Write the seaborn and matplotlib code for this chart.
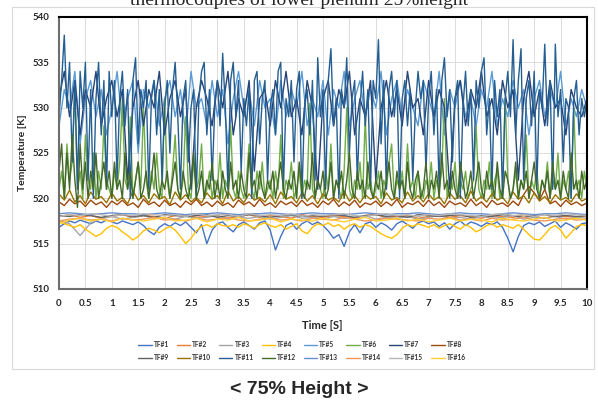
import numpy as np
import pandas as pd
import matplotlib
matplotlib.use("Agg")
import matplotlib.pyplot as plt
from matplotlib.lines import Line2D
from matplotlib.patches import Rectangle
import seaborn as sns

# --- time grids (s) ---
t_fine = np.round(np.arange(201) * 0.05, 2)
t_mid = np.round(np.arange(101) * 0.1, 2)
t_coarse = np.round(np.arange(51) * 0.2, 2)

# --- temperatures [K] ---
tf1 = [516.8, 517.2, 517.5, 517.3, 517.6, 517.4, 517.2, 517.5, 517.3, 517.6,
       517.4, 517.2, 517.5, 517.3, 517.1, 517.4, 517.0, 516.4, 516.0, 516.8,
       517.2, 516.9, 517.3, 517.0, 517.4, 516.8, 516.2, 517.1, 515.0, 516.5,
       517.2, 517.4, 516.8, 516.3, 517.1, 517.4, 517.0, 516.6, 517.3, 517.5,
       516.5, 514.3, 515.8, 517.0, 517.3, 516.6, 517.2, 517.5, 517.1, 517.4,
       517.0, 516.4, 515.6, 516.0, 514.7, 516.3, 517.1, 516.2, 517.2, 517.4,
       516.8, 517.3, 517.0, 516.5, 517.2, 517.5, 517.1, 516.7, 517.3, 517.5,
       517.2, 517.4, 516.9, 517.3, 516.6, 517.2, 517.5, 517.0, 517.4, 517.2,
       516.9, 517.3, 517.1, 517.4, 516.8, 515.6, 514.1, 515.8, 517.0, 517.3,
       517.1, 517.4, 516.9, 517.2, 517.5, 516.8, 517.3, 517.0, 516.6, 517.2, 517.3]
tf2 = [518.0, 518.2, 517.9, 518.1, 517.8, 518.0, 518.2, 517.9, 518.1, 518.0,
       517.8, 518.1, 518.2, 517.9, 518.0, 518.1, 517.8, 518.0, 518.2, 517.9,
       518.1, 518.0, 517.8, 518.2, 518.0, 517.9, 518.1, 518.0, 517.8, 518.1,
       518.2, 517.9, 518.0, 518.1, 517.8, 518.0, 518.2, 517.9, 518.1, 518.0,
       517.8, 518.1, 518.0, 517.9, 518.2, 518.0, 517.8, 518.1, 518.0, 517.9, 518.1]
tf3 = [517.6, 517.2, 515.9, 517.3, 517.8, 518.0, 517.7, 517.9, 518.1, 517.8,
       517.9, 517.7, 518.0, 517.8, 517.9, 518.1, 517.7, 517.9, 517.8, 518.0,
       517.7, 517.9, 518.1, 517.8, 517.9, 517.7, 518.0, 517.8, 517.9, 518.1,
       517.7, 517.9, 517.8, 518.0, 517.7, 517.9, 518.1, 517.8, 517.9, 517.7,
       518.0, 517.8, 517.9, 518.1, 517.7, 517.9, 517.8, 518.0, 517.7, 517.9, 517.8]
tf4 = [517.5, 517.2, 517.0, 516.8, 517.1, 516.6, 516.2, 515.8, 516.1, 516.7,
       517.0, 516.8, 516.3, 515.9, 515.4, 515.8, 516.4, 516.7, 516.5, 516.2,
       516.6, 516.9, 516.5, 515.8, 515.0, 515.6, 516.4, 516.9, 517.1, 516.8,
       517.2, 517.0, 516.9, 517.1, 516.8, 517.2, 517.0, 516.7, 517.1, 517.3,
       517.0, 516.8, 517.1, 516.6, 516.9, 517.2, 516.4, 516.1, 516.8, 517.2,
       517.0, 517.3, 516.9, 517.1, 516.6, 517.0, 517.2, 516.8, 517.1, 516.9,
       516.5, 516.1, 515.8, 515.6, 516.0, 516.7, 517.1, 516.9, 517.2, 517.0,
       516.8, 517.1, 516.7, 517.0, 517.2, 516.9, 516.6, 517.1, 516.8, 516.3,
       516.6, 517.0, 517.2, 516.8, 517.1, 516.9, 516.7, 517.1, 516.6, 516.0,
       515.5, 515.4, 516.0, 516.7, 517.0, 516.5, 515.6, 516.2, 516.9, 517.1, 517.0]
tf5 = [528, 532, 530, 534, 526, 531, 533, 529, 532, 527,
       530, 534, 528, 531, 533, 525, 532, 530, 533, 528,
       531, 533, 529, 532, 527, 534, 530, 531, 528, 533,
       529, 532, 526, 531, 534, 530, 532, 528, 533, 530,
       531, 527, 533, 529, 532, 530, 534, 528, 531, 529,
       533, 527, 532, 530, 534, 528, 531, 533, 529, 532,
       530, 534, 527, 531, 533, 529, 532, 530, 528, 533,
       531, 529, 534, 527, 532, 530, 533, 529, 531, 528,
       532, 530, 534, 528, 531, 529, 533, 530, 532, 527,
       531, 533, 529, 532, 530, 534, 528, 531, 529, 532, 530]
tf6 = [521, 523, 520, 526, 522, 524, 532, 521, 523, 520, 527, 522, 521, 525, 520, 523, 521, 528, 522, 521,
       520, 523, 521, 524, 531, 522, 521, 529, 520, 522, 524, 521, 530, 522, 520, 523, 521, 525, 521, 520,
       531, 522, 520, 523, 527, 521, 520, 522, 529, 521, 520, 524, 521, 522, 526, 520, 521, 523, 520, 522,
       521, 525, 520, 522, 521, 528, 521, 520, 523, 521, 520, 522, 526, 521, 520, 523, 521, 524, 520, 521,
       522, 520, 523, 521, 527, 520, 522, 521, 524, 520, 521, 523, 520, 522, 521, 530.5, 521, 520, 522, 521,
       520, 523, 521, 526, 520, 522, 521, 520, 523, 530, 521, 520, 522, 521, 524, 520, 529, 521, 522, 520,
       521, 523, 520, 522, 521, 524, 526, 520, 522, 521, 523, 520, 526, 521, 522, 520, 523, 521, 520, 522,
       521, 524, 520, 522, 521, 523, 531, 520, 522, 521, 524, 520, 522, 521, 523, 520, 521, 522, 528, 521,
       520, 522, 521, 524, 520, 522, 523, 520, 521, 531, 522, 520, 521, 523, 520, 522, 521, 527, 520, 522,
       521, 523, 520, 522, 521, 524, 520, 522, 521, 525, 520, 522, 521, 523, 520, 530, 521, 522, 520, 523,
       521]
tf7 = [531, 534, 529, 533, 527, 532, 530, 534, 528, 531,
       533, 529, 532, 522, 530, 533, 528, 532, 530, 534,
       527, 531, 533, 529, 532, 521, 530, 533, 531, 528,
       533, 530, 534, 527, 531, 529, 533, 523, 531, 532,
       528, 533, 530, 534, 529, 531, 527, 533, 530, 521,
       531, 533, 528, 532, 530, 534, 527, 531, 529, 533,
       522, 530, 533, 529, 532, 528, 534, 530, 531, 527,
       533, 529, 532, 530, 521, 531, 533, 528, 532, 530,
       534, 529, 531, 527, 533, 530, 532, 522, 531, 534,
       529, 532, 528, 533, 530, 531, 527, 532, 530, 529, 531]
tf8 = [519.6, 519.2, 519.9, 519.4, 519.7, 519.1, 519.8, 519.3, 519.6, 519.0,
       519.7, 519.3, 519.8, 519.2, 519.5, 519.0, 519.9, 519.3, 519.6, 519.1,
       519.8, 519.2, 519.5, 519.0, 519.7, 519.3, 519.9, 519.2, 519.6, 519.1,
       519.7, 519.2, 519.5, 519.0, 519.8, 519.3, 519.6, 519.1, 519.9, 519.2,
       519.5, 519.0, 519.7, 519.3, 519.6, 519.1, 519.8, 519.2, 519.5, 519.0,
       519.7, 519.3, 519.9, 519.1, 519.6, 519.2, 519.8, 519.0, 519.5, 519.3,
       519.7, 519.1, 519.6, 519.2, 519.9, 519.0, 519.5, 519.3, 519.7, 519.1,
       519.8, 519.2, 519.6, 519.0, 519.7, 519.3, 519.5, 519.1, 519.9, 519.2,
       519.6, 519.0, 519.8, 519.3, 519.5, 519.1, 519.7, 519.2, 520.4, 521.3,
       520.6, 519.8, 521.0, 519.4, 519.7, 519.1, 519.8, 519.3, 519.6, 519.2, 519.5]
tf9 = [518.1, 518.0, 518.2, 518.1, 517.9, 518.1, 518.2, 518.0, 518.1, 517.9,
       518.2, 518.1, 518.0, 518.1, 518.2, 517.9, 518.1, 518.0, 518.2, 518.1,
       517.9, 518.1, 518.2, 518.0, 518.1, 518.0, 518.2, 518.1, 517.9, 518.1,
       518.2, 518.0, 518.1, 517.9, 518.2, 518.1, 518.0, 518.1, 518.2, 517.9,
       518.1, 518.0, 518.2, 518.1, 517.9, 518.1, 518.2, 518.0, 518.1, 518.0, 518.1]
tf10 = [520.5, 519.8, 520.9, 519.6, 520.3, 519.4, 520.7, 519.9, 520.2, 519.5,
        520.6, 519.7, 520.1, 519.4, 520.8, 519.8, 520.3, 519.5, 520.5, 519.9,
        520.2, 519.3, 520.7, 519.8, 520.4, 519.6, 520.1, 519.5, 520.6, 519.9,
        520.3, 519.4, 520.8, 519.7, 520.2, 519.5, 520.5, 519.8, 520.1, 519.6,
        520.4, 519.4, 520.7, 519.9, 520.2, 519.5, 520.6, 519.7, 520.3, 519.4,
        520.5, 519.8, 520.1, 519.6, 520.8, 519.7, 520.3, 519.5, 520.4, 519.9,
        520.2, 519.4, 520.6, 519.8, 520.1, 519.5, 520.7, 519.7, 520.3, 519.6,
        520.5, 519.8, 520.2, 519.4, 520.6, 519.9, 520.3, 519.5, 520.8, 519.7,
        520.2, 519.6, 520.5, 519.8, 520.1, 519.4, 520.7, 519.9, 520.3, 519.5,
        520.6, 519.7, 520.2, 519.5, 520.4, 519.8, 520.1, 519.6, 520.5, 519.7, 520.0]
tf11 = [529, 533, 538, 530, 535, 524, 533, 521, 534, 530, 535, 522, 532, 520, 531, 535, 527, 533, 521, 534,
        529, 533, 522, 531, 534, 528, 532, 520, 533, 535.5, 526, 532, 530, 533, 521, 531, 533, 527, 532, 522,
        530, 533, 525, 532, 535, 529, 521, 531, 533, 524, 530, 532, 520, 531, 534, 535, 527, 532, 522, 530,
        533, 528, 536, 530, 521, 533, 535, 529, 533, 523, 531, 528, 532, 520, 533, 534, 526, 531, 533, 522,
        530, 532, 527, 534, 535, 521, 531, 529, 533, 524, 532, 534, 520, 530, 532, 527, 533, 522, 535.5, 529,
        532, 521, 533, 536.5, 528, 531, 520, 532, 530, 535.5, 525, 531, 533, 522, 530, 534, 528, 532, 521, 533,
        531, 537.5, 526, 533, 521, 532, 534, 529, 533, 520, 531, 533, 528, 532, 522, 530, 534, 531, 533, 523,
        531, 534, 527, 532, 521, 533, 535.5, 529, 532, 524, 531, 533, 520, 530, 534, 528, 532, 522, 533, 530,
        534, 535.5, 527, 531, 521, 533, 529, 532, 520, 531, 534, 529, 537.5, 527, 533, 536.5, 522, 531, 533, 528,
        534, 521, 532, 530, 537, 528, 533, 521, 537, 529, 532, 524, 531, 530, 520, 531, 533, 527, 531, 529,
        531]
tf12 = [523, 526, 520, 525, 521, 527, 522, 519, 526, 521, 524, 520, 523, 521, 525, 520, 522, 524, 521, 523,
        520, 524, 521, 522, 520, 525, 521, 523, 520, 522, 524, 520, 521, 523, 520, 522, 525, 521, 520, 522,
        521, 523, 520, 522, 524, 521, 520, 523, 521, 520, 522, 525, 520, 521, 523, 520, 522, 521, 524, 520,
        522, 520, 523, 521, 520, 524, 521, 522, 520, 523, 521, 520, 525, 521, 522, 520, 523, 521, 520, 522,
        521, 523, 520, 522, 524, 521, 520, 522, 521, 523, 520, 524, 521, 520, 522, 521, 525, 520, 522, 521,
        523, 520, 521, 524, 520, 522, 521, 523, 520, 522, 525, 521, 520, 523, 521, 522, 520, 524, 521, 520,
        522, 521, 523, 520, 522, 524, 521, 520, 523, 521, 522, 520, 524, 521, 520, 522, 523, 520, 521, 524,
        520, 522, 521, 523, 520, 525, 521, 522, 520, 523, 521, 520, 524, 522, 520, 521, 523, 520, 522, 524,
        521, 520, 523, 521, 522, 520, 524, 521, 520, 523, 522, 520, 521, 524, 520, 522, 521, 523, 520, 522,
        524, 521, 520, 522, 521, 523, 520, 524, 521, 522, 520, 523, 521, 520, 525, 521, 522, 520, 523, 521,
        522]
tf13 = [518.3, 518.4, 518.3, 518.2, 518.3, 518.4, 518.3, 518.3, 518.2, 518.3,
        518.4, 518.3, 518.2, 518.3, 518.3, 518.4, 518.3, 518.2, 518.3, 518.3,
        518.4, 518.3, 518.2, 518.3, 518.4, 518.3, 518.3, 518.2, 518.3, 518.4,
        518.3, 518.2, 518.3, 518.3, 518.4, 518.3, 518.2, 518.3, 518.4, 518.3,
        518.3, 518.2, 518.3, 518.4, 518.3, 518.2, 518.3, 518.3, 518.4, 518.3, 518.2]
tf14 = [517.5, 517.7, 517.8, 517.6, 517.7, 517.5, 517.8, 517.6, 517.7, 517.9,
        517.6, 517.7, 517.5, 517.8, 517.6, 517.7, 517.9, 517.6, 517.5, 517.7,
        517.8, 517.6, 517.7, 517.5, 517.8, 517.7, 517.6, 517.9, 517.7, 517.5,
        517.6, 517.8, 517.7, 517.6, 517.5, 517.8, 517.7, 517.9, 517.6, 517.7,
        517.5, 517.8, 517.6, 517.7, 517.9, 517.6, 517.5, 517.7, 517.8, 517.6, 517.7]
tf15 = [518.0, 518.2, 518.1, 518.3, 518.2, 518.0, 518.2, 518.1, 518.3, 518.2,
        518.1, 518.2, 518.0, 518.3, 518.1, 518.2, 518.2, 518.0, 518.3, 518.1,
        518.2, 518.1, 518.3, 518.0, 518.2, 518.1, 518.2, 518.3, 518.1, 518.0,
        518.2, 518.3, 518.1, 518.2, 518.0, 518.2, 518.1, 518.3, 518.2, 518.1,
        518.0, 518.2, 518.3, 518.1, 518.2, 518.0, 518.2, 518.1, 518.3, 518.2, 518.1]
tf16 = [517.2, 517.6, 517.8, 517.5, 517.7, 517.4, 517.8, 517.6, 517.5, 517.7,
        517.9, 517.5, 517.6, 517.8, 517.4, 517.7, 517.6, 517.9, 517.5, 517.6,
        517.8, 517.4, 517.7, 517.6, 517.5, 517.8, 517.6, 517.4, 517.7, 517.9,
        517.5, 517.6, 517.8, 517.5, 517.7, 517.4, 517.6, 517.8, 517.5, 517.7,
        517.6, 517.4, 517.8, 517.6, 517.5, 517.7, 517.9, 517.5, 517.6, 517.8, 517.6]

names = ['TF#%d' % i for i in range(1, 17)]
series = [(t_mid, tf1), (t_coarse, tf2), (t_coarse, tf3), (t_mid, tf4),
          (t_mid, tf5), (t_fine, tf6), (t_mid, tf7), (t_mid, tf8),
          (t_coarse, tf9), (t_mid, tf10), (t_fine, tf11), (t_fine, tf12),
          (t_coarse, tf13), (t_coarse, tf14), (t_coarse, tf15), (t_coarse, tf16)]

# Excel office palette
colors = ['#4472C4', '#ED7D31', '#A5A5A5', '#FFC000', '#5B9BD5', '#70AD47',
          '#264478', '#9E480E', '#636363', '#997300', '#255E91', '#43682B',
          '#698ED0', '#F1975A', '#B7B7B7', '#FFCD33']
palette = dict(zip(names, colors))

df = pd.concat([pd.DataFrame({'Time': t, 'Temperature': v, 'TC': n})
                for n, (t, v) in zip(names, series)], ignore_index=True)

sns.set_theme(style='white')
plt.rcParams['font.family'] = ['Lato', 'DejaVu Sans']

fig = plt.figure(figsize=(5.98, 4.03), dpi=100)
ax = fig.add_axes([59 / 598, 114 / 403, 528 / 598, 272 / 403])

sns.lineplot(data=df, x='Time', y='Temperature', hue='TC', hue_order=names,
             palette=palette, linewidth=1.0, estimator=None, sort=False,
             legend=False, ax=ax)

ax.set_xlim(0, 10)
ax.set_ylim(510, 540)
ax.set_xticks(np.arange(0, 10.01, 0.5))
ax.set_xticklabels(['%g' % v for v in np.arange(0, 10.01, 0.5)])
ax.set_yticks(np.arange(510, 541, 5))
ax.grid(True, color='#dcdcdc', linewidth=0.7)
ax.set_axisbelow(True)
ax.tick_params(axis='both', length=0, labelsize=7, pad=7)
for lab in ax.get_xticklabels() + ax.get_yticklabels():
    lab.set_fontweight('bold')
    lab.set_color('#262626')

for side in ['top', 'right']:
    ax.spines[side].set_color('black')
    ax.spines[side].set_linewidth(1.5)
for side in ['left', 'bottom']:
    ax.spines[side].set_color('#6e6e6e')
    ax.spines[side].set_linewidth(1.5)

ax.set_xlabel('Time [S]', fontsize=8, fontweight='bold')
ax.set_ylabel('Temperature [K]', fontsize=7.5, fontweight='bold')
ax.xaxis.set_label_coords(263 / 528, -31 / 272)
ax.yaxis.set_label_coords(-32 / 528, 0.5)

# legend filled row by row (2 rows x 8 columns)
order = [i + 8 * r for i in range(8) for r in range(2)]
handles = [Line2D([], [], color=colors[k], linewidth=1.0) for k in order]
labels = [names[k] for k in order]
leg = fig.legend(handles, labels, ncol=8, loc='center',
                 bbox_to_anchor=(302 / 598, 1 - 351 / 403), frameon=False,
                 fontsize=4.8, handlelength=2.0, handletextpad=0.3,
                 columnspacing=1.2, labelspacing=0.9)
for txt in leg.get_texts():
    txt.set_fontweight('bold')
    txt.set_color('#333333')

# chart-area border
fig.patches.append(Rectangle((12 / 598, 1 - 369 / 403), 582 / 598, 362 / 403,
                             transform=fig.transFigure, fill=False,
                             edgecolor='#d9d9d9', linewidth=0.8))

# title cut at the top (as in the source figure), and caption
fig.text(0.5, 1 - 5 / 403, 'thermocouples of lower plenum 25%height',
         ha='center', va='baseline', fontsize=14, family='Liberation Serif')
fig.text(0.5, 1 - 389 / 403, '< 75% Height >', ha='center', va='center',
         fontsize=14, fontweight='bold', family='Liberation Sans')

fig.savefig('out.png', dpi=100)
